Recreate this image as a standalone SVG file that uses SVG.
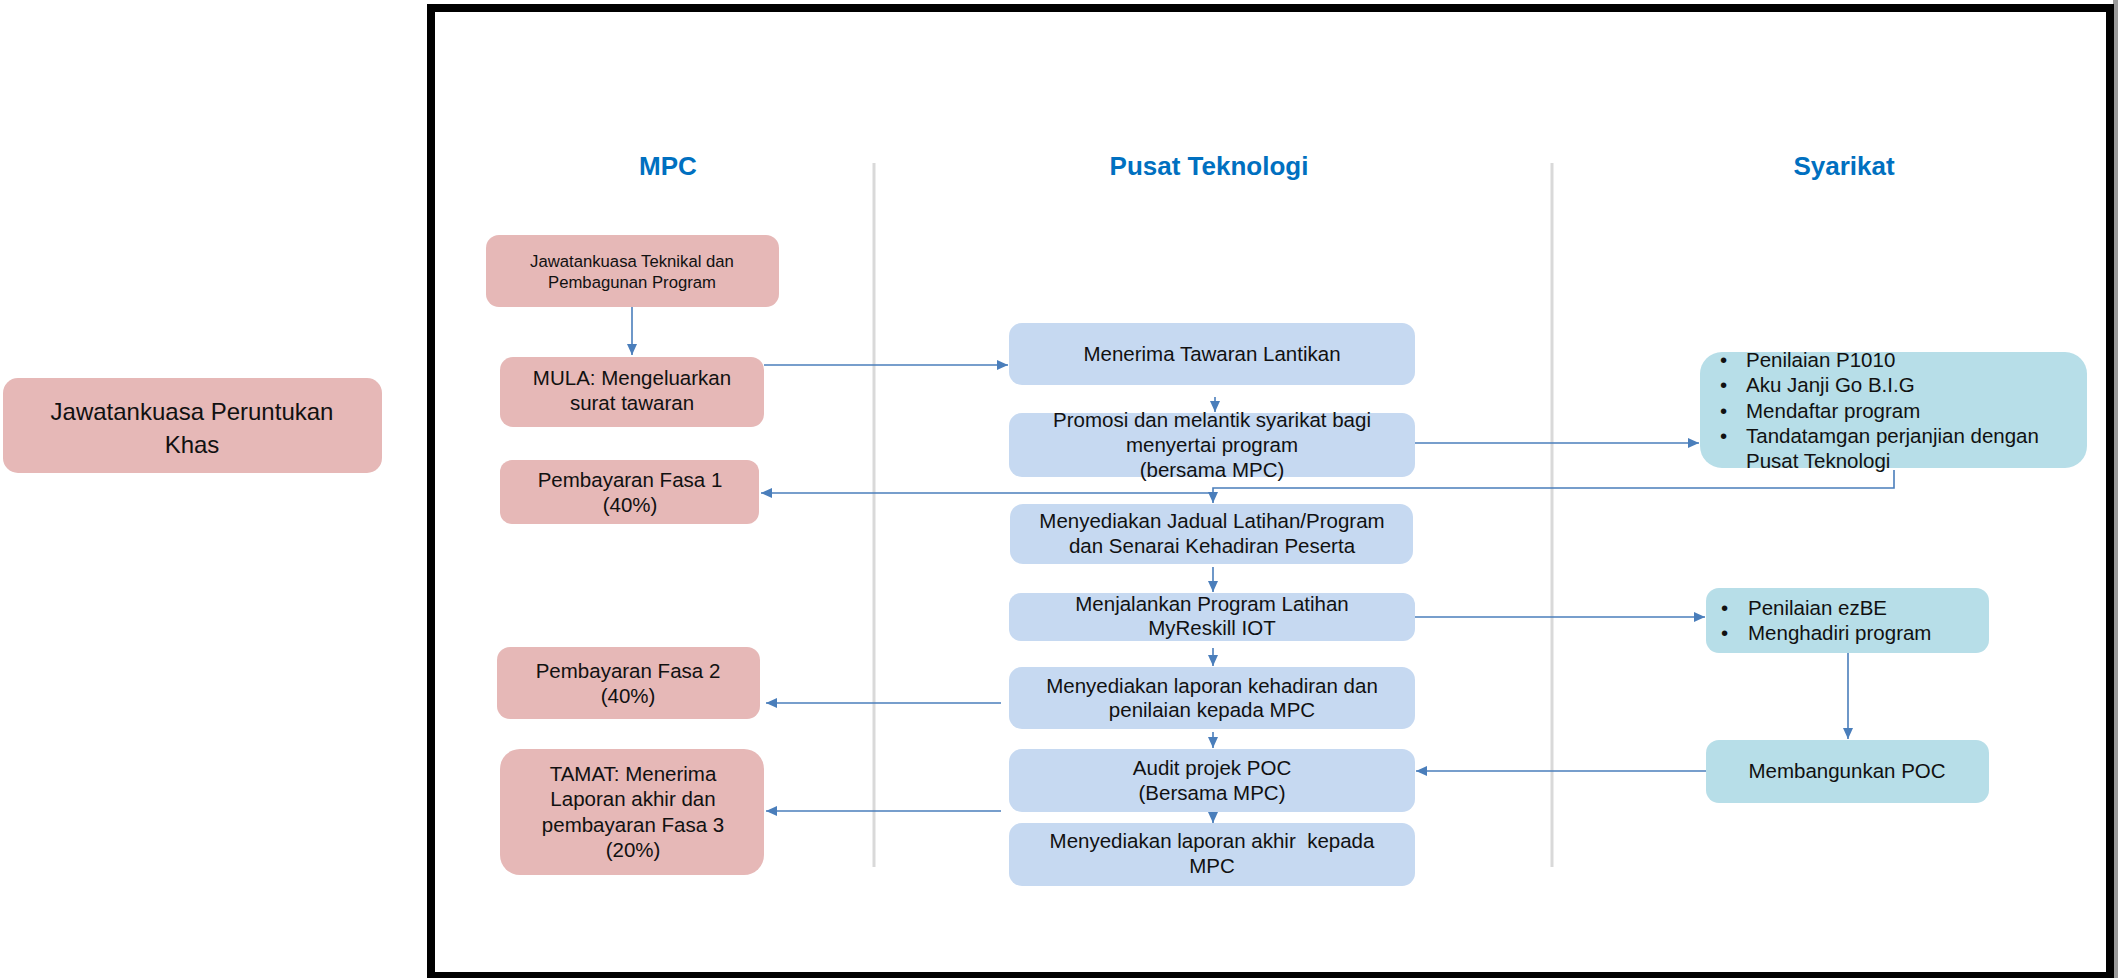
<svg xmlns="http://www.w3.org/2000/svg" width="2118" height="978" viewBox="0 0 2118 978">
<defs>
<style>
.t{font-family:"Liberation Sans",Arial,sans-serif;fill:#111;text-anchor:middle}
.m{font-size:20.5px}
.l{font-family:"Liberation Sans",Arial,sans-serif;fill:#111;font-size:20.5px}
.h{font-family:"Liberation Sans",Arial,sans-serif;font-weight:bold;font-size:26px;fill:#0070C0;text-anchor:middle}
.pink{fill:#E6B8B7}
.blue{fill:#C6D9F1}
.teal{fill:#B7DEE8}
.c{fill:none;stroke:#4A7EBB;stroke-width:1.6}
.div{stroke:#D9D9D9;stroke-width:3}
</style>
<marker id="ah" markerWidth="12" markerHeight="10" refX="11" refY="5" orient="auto" markerUnits="userSpaceOnUse">
<path d="M0,0 L11,5 L0,10 z" fill="#4A7EBB"/>
</marker>
</defs>
<rect width="2118" height="978" fill="#fff"/>
<rect x="2113" y="0" width="5" height="978" fill="#9a9a9a"/>
<rect x="431" y="8" width="1679" height="968" fill="#fff" stroke="#000" stroke-width="8"/>

<g id="left-node">
<rect class="pink" x="3" y="378" width="379" height="95" rx="15"/>
<text class="t" x="192" y="420" font-size="24">Jawatankuasa Peruntukan</text>
<text class="t" x="192" y="453" font-size="24">Khas</text>
</g>

<g id="headers">
<text class="h" x="668" y="175">MPC</text>
<text class="h" x="1209" y="175">Pusat Teknologi</text>
<text class="h" x="1844" y="175">Syarikat</text>
<line class="div" x1="874" y1="163" x2="874" y2="867"/>
<line class="div" x1="1552" y1="163" x2="1552" y2="867"/>
</g>

<g id="connectors">
<path class="c" d="M632,307 V355" marker-end="url(#ah)"/>
<path class="c" d="M764,365 H1008" marker-end="url(#ah)"/>
<path class="c" d="M1215,397 V412" marker-end="url(#ah)"/>
<path class="c" d="M1415,443 H1699" marker-end="url(#ah)"/>
<path class="c" d="M1894,470 V488 H1213 V503" marker-end="url(#ah)"/>
<path class="c" d="M1213,493 H761" marker-end="url(#ah)"/>
<path class="c" d="M1213,567 V592" marker-end="url(#ah)"/>
<path class="c" d="M1415,617 H1705" marker-end="url(#ah)"/>
<path class="c" d="M1848,653 V739" marker-end="url(#ah)"/>
<path class="c" d="M1213,648 V666" marker-end="url(#ah)"/>
<path class="c" d="M1001,703 H766" marker-end="url(#ah)"/>
<path class="c" d="M1213,732 V748" marker-end="url(#ah)"/>
<path class="c" d="M1706,771 H1416" marker-end="url(#ah)"/>
<path class="c" d="M1001,811 H766" marker-end="url(#ah)"/>
<path class="c" d="M1213,808 V823" marker-end="url(#ah)"/>
</g>

<g id="mpc-teknikal">
<rect class="pink" x="486" y="235" width="293" height="72" rx="13"/>
<text class="t" x="632" y="267" font-size="16.7">Jawatankuasa Teknikal dan</text>
<text class="t" x="632" y="288" font-size="16.7">Pembagunan Program</text>
</g>
<g id="mpc-mula">
<rect class="pink" x="500" y="357" width="264" height="70" rx="13"/>
<text class="t m" x="632" y="385">MULA: Mengeluarkan</text>
<text class="t m" x="632" y="410">surat tawaran</text>
</g>
<g id="mpc-fasa1">
<rect class="pink" x="500" y="460" width="259" height="64" rx="12"/>
<text class="t m" x="630" y="487">Pembayaran Fasa 1</text>
<text class="t m" x="630" y="512">(40%)</text>
</g>
<g id="mpc-fasa2">
<rect class="pink" x="497" y="647" width="263" height="72" rx="13"/>
<text class="t m" x="628" y="678">Pembayaran Fasa 2</text>
<text class="t m" x="628" y="703">(40%)</text>
</g>
<g id="mpc-tamat">
<rect class="pink" x="500" y="749" width="264" height="126" rx="20"/>
<text class="t m" x="633" y="781">TAMAT: Menerima</text>
<text class="t m" x="633" y="806">Laporan akhir dan</text>
<text class="t m" x="633" y="832">pembayaran Fasa 3</text>
<text class="t m" x="633" y="857">(20%)</text>
</g>

<g id="pt-menerima">
<rect class="blue" x="1009" y="323" width="406" height="62" rx="13"/>
<text class="t m" x="1212" y="361">Menerima Tawaran Lantikan</text>
</g>
<g id="pt-promosi">
<rect class="blue" x="1009" y="413" width="406" height="64" rx="13"/>
<text class="t m" x="1212" y="427">Promosi dan melantik syarikat bagi</text>
<text class="t m" x="1212" y="452">menyertai program</text>
<text class="t m" x="1212" y="477">(bersama MPC)</text>
</g>
<g id="pt-jadual">
<rect class="blue" x="1010" y="504" width="403" height="60" rx="13"/>
<text class="t m" x="1212" y="528">Menyediakan Jadual Latihan/Program</text>
<text class="t m" x="1212" y="553">dan Senarai Kehadiran Peserta</text>
</g>
<g id="pt-menjalankan">
<rect class="blue" x="1009" y="593" width="406" height="48" rx="12"/>
<text class="t m" x="1212" y="611">Menjalankan Program Latihan</text>
<text class="t m" x="1212" y="635">MyReskill IOT</text>
</g>
<g id="pt-laporan">
<rect class="blue" x="1009" y="667" width="406" height="62" rx="13"/>
<text class="t m" x="1212" y="693">Menyediakan laporan kehadiran dan</text>
<text class="t m" x="1212" y="717">penilaian kepada MPC</text>
</g>
<g id="pt-audit">
<rect class="blue" x="1009" y="749" width="406" height="63" rx="13"/>
<text class="t m" x="1212" y="775">Audit projek POC</text>
<text class="t m" x="1212" y="800">(Bersama MPC)</text>
</g>
<g id="pt-akhir">
<rect class="blue" x="1009" y="823" width="406" height="63" rx="13"/>
<text class="t m" x="1212" y="848" xml:space="preserve">Menyediakan laporan akhir  kepada</text>
<text class="t m" x="1212" y="873">MPC</text>
</g>

<g id="sy-penilaian">
<rect class="teal" x="1700" y="352" width="387" height="116" rx="22"/>
<g class="l">
<text x="1720" y="367">•</text><text x="1746" y="367">Penilaian P1010</text>
<text x="1720" y="392">•</text><text x="1746" y="392">Aku Janji Go B.I.G</text>
<text x="1720" y="418">•</text><text x="1746" y="418">Mendaftar program</text>
<text x="1720" y="443">•</text><text x="1746" y="443">Tandatamgan perjanjian dengan</text>
<text x="1746" y="468">Pusat Teknologi</text>
</g>
</g>
<g id="sy-ezbe">
<rect class="teal" x="1706" y="588" width="283" height="65" rx="13"/>
<g class="l">
<text x="1721" y="615">•</text><text x="1748" y="615">Penilaian ezBE</text>
<text x="1721" y="640">•</text><text x="1748" y="640">Menghadiri program</text>
</g>
</g>
<g id="sy-poc">
<rect class="teal" x="1706" y="740" width="283" height="63" rx="13"/>
<text class="t m" x="1847" y="778">Membangunkan POC</text>
</g>
</svg>
